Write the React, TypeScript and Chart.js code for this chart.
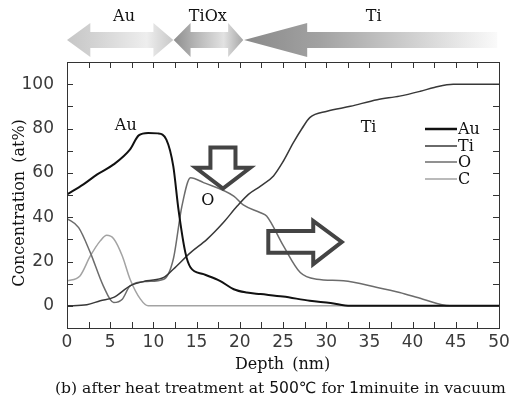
import React, { useEffect, useRef } from 'react';
import { Chart, registerables } from 'chart.js';

Chart.register(...registerables);

// ---- data ----
const seriesNames = ['Au', 'Ti', 'O', 'C'];

const auDepth = [0, 1.9, 3.5, 5.4, 7.3, 8.3, 9.4, 10.5, 11.5, 12.3, 12.9, 13.7, 14.3, 15.8, 17.7, 19.3, 20.8, 22.4, 25, 28.1, 30.5, 32.8, 35, 40, 45, 50];
const auConc = [50.3, 54.8, 59.3, 63.8, 70.6, 76.9, 78, 77.8, 75, 63, 43.5, 24, 17.3, 14.3, 11.3, 7.5, 6, 5.3, 4.2, 2.3, 1.3, 0, 0, 0, 0, 0];

const tiDepth = [0, 2.3, 3.85, 5.4, 7.3, 9.25, 11.2, 12.3, 14.3, 16.2, 18.1, 19.7, 21, 22.4, 23.9, 25, 26.2, 27.2, 28.1, 30.1, 32.8, 35.9, 38.5, 40.9, 42.5, 44.7, 47, 50];
const tiConc = [0, 0.5, 2.3, 3.8, 9, 11.3, 12.8, 16.5, 24, 30, 37.6, 45, 50.3, 54, 58.6, 65, 73.6, 80, 84.9, 87.8, 90, 93, 94.6, 96.8, 98.5, 100, 100, 100];

const oDepth = [0, 1.35, 2.7, 4.2, 5.4, 6.4, 7.3, 9.25, 11.2, 12.3, 13.3, 14.3, 15.8, 19.3, 20.4, 22.4, 23.1, 25.05, 27, 28.9, 32, 35.9, 38.5, 41.2, 44.3, 47, 50];
const oConc = [39.4, 35.3, 24, 9, 1.5, 3, 9, 11, 12, 21, 45, 57.8, 55.6, 49.5, 45.5, 42, 40.5, 27, 15, 12, 11.3, 8.3, 6, 3, 0, 0, 0];

const cDepth = [0, 1.5, 2.7, 3.85, 4.6, 5.4, 6.4, 7.3, 8.5, 9.4, 15, 20, 30, 40, 50];
const cConc = [11.3, 13.5, 22.5, 29.3, 31.8, 30.3, 22.5, 12, 3, 0, 0, 0, 0, 0, 0];

const xTickValues = [0, 5, 10, 15, 20, 25, 30, 35, 40, 45, 50];
const yTickValues = [0, 20, 40, 60, 80, 100];

const layerNames = ['Au', 'TiOx', 'Ti'];

// ---- styles ----
const seriesColors = ['#111111', '#383838', '#6c6c6c', '#a3a3a3'];
const seriesWidths = [2, 1.5, 1.5, 1.5];
const SANS = '"DejaVu Sans", "Liberation Sans", sans-serif';
const SERIF = '"DejaVu Serif", "Liberation Serif", serif';

function toPts(xs: number[], ys: number[]) {
  return xs.map((x, i) => ({ x, y: ys[i] }));
}

function poly(ctx: CanvasRenderingContext2D, pts: number[][]) {
  ctx.beginPath();
  pts.forEach((p, i) => (i === 0 ? ctx.moveTo(p[0], p[1]) : ctx.lineTo(p[0], p[1])));
  ctx.closePath();
}

const decor = {
  id: 'decor',
  afterDraw(chart: any) {
    const ctx: CanvasRenderingContext2D = chart.ctx;
    const xs = chart.scales.x;
    const ys = chart.scales.y;
    const { left, right, top, bottom } = chart.chartArea;
    const X = (v: number) => xs.getPixelForValue(v);
    const Y = (v: number) => ys.getPixelForValue(v);
    ctx.save();

    // frame
    ctx.strokeStyle = '#333';
    ctx.lineWidth = 1;
    ctx.strokeRect(Math.round(left) + 0.5, Math.round(top) + 0.5, Math.round(right - left), Math.round(bottom - top));

    // inward ticks
    ctx.beginPath();
    for (let v = 0; v <= 50; v += 2.5) {
      const px = Math.round(X(v)) + 0.5;
      ctx.moveTo(px, bottom);
      ctx.lineTo(px, bottom - 6);
      ctx.moveTo(px, top);
      ctx.lineTo(px, top + 6);
    }
    for (let v = -10; v <= 110; v += 10) {
      const py = Math.round(Y(v)) + 0.5;
      ctx.moveTo(left, py);
      ctx.lineTo(left + 6, py);
      ctx.moveTo(right, py);
      ctx.lineTo(right - 6, py);
    }
    ctx.stroke();

    // top layer arrows
    const yc = top - 22;
    const hh = 17;
    const sh = 8;
    const dbl = (a: number, b: number, c: number, d: number, stops: [number, string][]) => {
      const xa = X(a), xb = X(b), xcc = X(c), xd = X(d);
      poly(ctx, [
        [xa, yc], [xb, yc - hh], [xb, yc - sh], [xcc, yc - sh], [xcc, yc - hh], [xd, yc],
        [xcc, yc + hh], [xcc, yc + sh], [xb, yc + sh], [xb, yc + hh],
      ]);
      const g = ctx.createLinearGradient(xa, 0, xd, 0);
      stops.forEach(([o, col]) => g.addColorStop(o, col));
      ctx.fillStyle = g;
      ctx.fill();
    };
    dbl(0, 2.7, 10, 12.3, [[0, '#c6c6c6'], [0.25, '#d2d2d2'], [0.75, '#eeeeee'], [1, '#c8c8c8']]);
    dbl(12.35, 14.3, 18.65, 20.4, [[0, '#8e8e8e'], [0.3, '#b4b4b4'], [0.72, '#e2e2e2'], [1, '#a6a6a6']]);
    {
      const xa = X(20.5), xb = X(27.8), xe = X(49.8);
      poly(ctx, [[xa, yc], [xb, yc - hh], [xb, yc - sh], [xe, yc - sh], [xe, yc + sh], [xb, yc + sh], [xb, yc + hh]]);
      const g = ctx.createLinearGradient(xa, 0, xe, 0);
      g.addColorStop(0, '#8a8a8a');
      g.addColorStop(0.3, '#a2a2a2');
      g.addColorStop(1, '#fafafa');
      ctx.fillStyle = g;
      ctx.fill();
    }
    ctx.fillStyle = '#111';
    ctx.font = `16px ${SERIF}`;
    ctx.textAlign = 'center';
    ctx.textBaseline = 'alphabetic';
    ctx.fillText(layerNames[0], X(6.6), 21);
    ctx.fillText(layerNames[1], X(16.3), 21);
    ctx.fillText(layerNames[2], X(35.5), 21);

    // hollow arrows
    ctx.strokeStyle = '#444';
    ctx.lineWidth = 4;
    ctx.lineJoin = 'miter';
    poly(ctx, [
      [X(16.6), Y(71.4)], [X(19.5), Y(71.4)], [X(19.5), Y(62.3)], [X(21.2), Y(62.3)],
      [X(18.05), Y(52.9)], [X(14.9), Y(62.3)], [X(16.6), Y(62.3)],
    ]);
    ctx.stroke();
    poly(ctx, [
      [X(23.3), Y(33.8)], [X(28.5), Y(33.8)], [X(28.5), Y(38.3)], [X(31.8), Y(28.8)],
      [X(28.5), Y(18.8)], [X(28.5), Y(24)], [X(23.3), Y(24)],
    ]);
    ctx.stroke();

    // in-plot labels
    ctx.fillStyle = '#111';
    ctx.font = `16px ${SERIF}`;
    ctx.textAlign = 'center';
    ctx.fillText('Au', X(6.8), Y(82) + 6);
    ctx.fillText('O', X(16.3), Y(48) + 6);
    ctx.fillText('Ti', X(34.9), Y(81) + 6);

    // legend
    ctx.textAlign = 'left';
    ctx.textBaseline = 'middle';
    seriesNames.forEach((name, i) => {
      const ly = Math.round(top + 67 + i * 16.6);
      ctx.strokeStyle = seriesColors[i];
      ctx.lineWidth = seriesWidths[i] + (i === 0 ? 0.5 : 0);
      ctx.beginPath();
      ctx.moveTo(425, ly);
      ctx.lineTo(457, ly);
      ctx.stroke();
      ctx.fillStyle = '#111';
      ctx.fillText(name, 458, ly + 1);
    });

    // axis titles
    ctx.textAlign = 'center';
    ctx.textBaseline = 'alphabetic';
    ctx.font = `16px ${SERIF}`;
    ctx.fillText('Depth\u2002(nm)', (left + right) / 2 - 0.5, 369);
    ctx.save();
    ctx.translate(24, (top + Y(-10)) / 2 + 8);
    ctx.rotate(-Math.PI / 2);
    ctx.fillText('Concentration\u2002(at%)', 0, 0);
    ctx.restore();

    // caption with mixed fonts
    const parts: [string, string][] = [
      ['(b) after heat treatment at ', SERIF],
      ['500\u2103', SANS],
      [' for ', SERIF],
      ['1', SANS],
      ['minuite in vacuum', SERIF],
    ];
    ctx.textAlign = 'left';
    let cx = 55;
    parts.forEach(([t, f]) => {
      ctx.font = `15.6px ${f}`;
      ctx.fillText(t, cx, 393);
      cx += ctx.measureText(t).width;
    });
    ctx.restore();
  },
};

export default function App() {
  const ref = useRef<HTMLCanvasElement>(null);
  useEffect(() => {
    const canvas = ref.current;
    if (!canvas) return;
    const xsData = [auDepth, tiDepth, oDepth, cDepth];
    const ysData = [auConc, tiConc, oConc, cConc];
    const chart = new Chart(canvas, {
      type: 'line',
      data: {
        datasets: seriesNames.map((name, i) => ({
          label: name,
          data: toPts(xsData[i], ysData[i]),
          borderColor: seriesColors[i],
          borderWidth: seriesWidths[i],
          pointRadius: 0,
          fill: false,
          cubicInterpolationMode: 'monotone' as const,
        })),
      },
      options: {
        responsive: false,
        animation: false,
        layout: { padding: { left: 0, right: 11, top: 62, bottom: 0 } },
        plugins: { legend: { display: false }, tooltip: { enabled: false } },
        scales: {
          x: {
            type: 'linear',
            min: 0,
            max: 50,
            afterBuildTicks: (s: any) => {
              s.ticks = xTickValues.map((v) => ({ value: v }));
            },
            afterFit: (s: any) => {
              s.height = 72;
              s.paddingLeft = 0;
              s.paddingRight = 0;
            },
            grid: { display: false },
            border: { display: false },
            ticks: {
              color: '#3a3a3a',
              font: { family: SANS, size: 17 },
              padding: -4,
              maxRotation: 0,
              autoSkip: false,
            },
          },
          y: {
            type: 'linear',
            min: -10,
            max: 110,
            afterBuildTicks: (s: any) => {
              s.ticks = yTickValues.map((v) => ({ value: v }));
            },
            afterFit: (s: any) => {
              s.width = 67;
              s.paddingTop = 0;
              s.paddingBottom = 0;
            },
            grid: { display: false },
            border: { display: false },
            ticks: {
              color: '#3a3a3a',
              font: { family: SANS, size: 17 },
              padding: 5,
              autoSkip: false,
            },
          },
        },
      },
      plugins: [decor],
    } as any);
    return () => chart.destroy();
  }, []);
  return (
    <div style={{ position: 'fixed', left: 0, top: 0, width: 510, height: 400, background: '#fff', overflow: 'hidden' }}>
      <canvas ref={ref} width={510} height={400} style={{ display: 'block' }} />
    </div>
  );
}
